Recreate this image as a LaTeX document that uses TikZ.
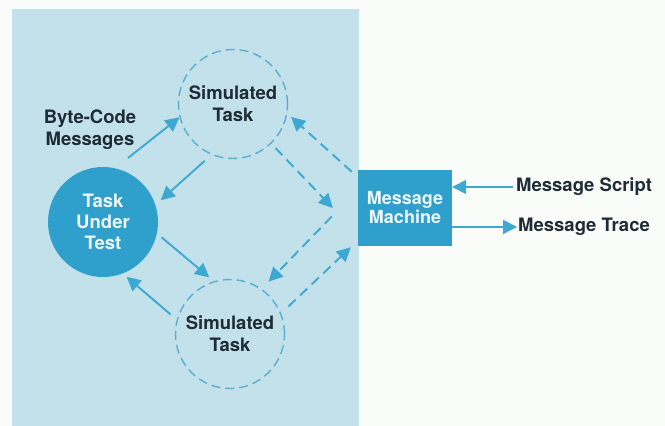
\documentclass[tikz,border=0pt]{standalone}
\usepackage{fontspec}
\setmainfont{TeX Gyre Heros}
\usetikzlibrary{arrows.meta,calc}
\definecolor{bgblue}{HTML}{C2E1EB}
\definecolor{darkblue}{HTML}{2F9FCB}
\definecolor{arrblue}{HTML}{3DA9D2}
\definecolor{dashblue}{HTML}{5AAFD0}
\definecolor{txt}{HTML}{1F2C35}
\definecolor{paper}{HTML}{FAFCFA}
\tikzset{
  lbl/.style={font=\fontsize{18.5}{22}\selectfont\bfseries, text=txt, align=center, inner sep=0pt},
  simtask/.style={circle, draw=dashblue, line width=1.4pt, dash pattern=on 9pt off 5pt, minimum size=109pt, inner sep=0pt, font=\fontsize{18.5}{22}\selectfont\bfseries, text=txt, align=center},
  tut/.style={circle, fill=darkblue, minimum size=110pt, inner sep=0pt, font=\fontsize{18.5}{21}\selectfont\bfseries, text=white!92!darkblue, align=center},
  machine/.style={rectangle, fill=darkblue, minimum width=94pt, minimum height=76pt, inner sep=0pt, font=\fontsize{18}{19}\selectfont\bfseries, text=white!92!darkblue, align=center},
  arr/.style={draw=arrblue, line width=1.9pt, -{Triangle[length=14pt,width=14pt]}},
  darr/.style={arr, dash pattern=on 10pt off 6pt}
}
\begin{document}
\begin{tikzpicture}[x=1pt,y=-1pt]
\useasboundingbox (0,0) rectangle (665,426);
\fill[paper] (0,0) rectangle (665,426);
\fill[bgblue] (12,9) rectangle (359,426);

\node[simtask] (top) at (233,104) {Simulated\\Task};
\node[simtask] (bot) at (230,334) {Simulated\\Task};
\node[tut] (tut) at (103,222) {Task\\Under\\Test};
\node[machine] (mm) at (405,208) {Message\\Machine};
\node[lbl] (bc) at (90,130) {Byte-Code\\Messages};
\node[lbl, anchor=west] (ms) at (516,187) {Message Script};
\node[lbl, anchor=west] (mt) at (518,227) {Message Trace};

\coordinate (bcs) at (128,158);
\draw[arr] (bcs) -- (top.194);
\draw[arr, shorten <=9pt, shorten >=7pt] (top.247) -- (tut.18);
\draw[arr, shorten <=6pt, shorten >=6pt] (tut.348) -- (bot.107);
\draw[arr, shorten <=8pt, shorten >=5pt] (bot.165) -- (tut.291);

\draw[darr, shorten >=5pt] ([shift={(-6,2)}]mm.north west) -- (top.350);
\draw[darr, shorten <=6pt] (top.314) -- ([shift={(-25,0)}]mm.west);
\draw[darr, shorten >=10pt] ([shift={(-26,8.5)}]mm.west) -- (bot.55);
\draw[darr, shorten <=10pt] (bot.22) -- ([shift={(-7,1)}]mm.south west);

\draw[arr, line width=1.4pt, shorten <=3pt] (ms.west) -- (mm.east |- ms.west);
\draw[arr, line width=1.4pt, shorten >=1pt] (mm.east |- mt.west) -- (mt.west);
\end{tikzpicture}
\end{document}
